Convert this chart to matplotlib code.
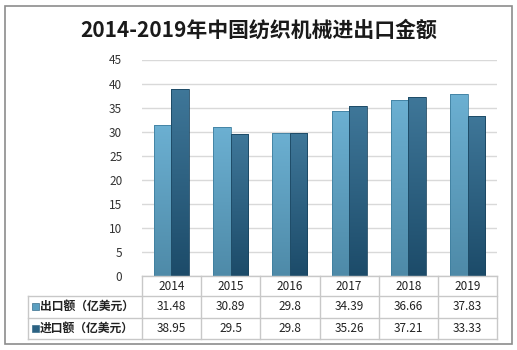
import numpy as np
import matplotlib.pyplot as plt
from matplotlib.colors import LinearSegmentedColormap
from matplotlib.patches import Rectangle

plt.rcParams['font.family'] = ['Noto Sans CJK SC', 'DejaVu Sans']

years = ['2014', '2015', '2016', '2017', '2018', '2019']
export = [31.48, 30.89, 29.8, 34.39, 36.66, 37.83]
imports = [38.95, 29.5, 29.8, 35.26, 37.21, 33.33]
export_label = '出口额（亿美元）'
import_label = '进口额（亿美元）'
title = '2014-2019年中国纺织机械进出口金额'

W, H = 517, 350
fig = plt.figure(figsize=(W / 100, H / 100), dpi=100)

def fx(px):
    return px / W

def fy(py):
    return 1 - py / H

# outer frame
fig.patches.append(Rectangle((fx(5), fy(344)), fx(507), 338 / H, transform=fig.transFigure,
                             fill=False, edgecolor='#8c8c8c', linewidth=1.2))

fig.text(0.5, fy(30), title, ha='center', va='center', fontsize=15, fontweight='bold', color='#1a1a1a')

left, right = 141.7, 497.3
y0, y45 = 276, 59.5
ax = fig.add_axes([fx(left), fy(y0), fx(right - left), (y0 - y45) / H])
ax.set_xlim(-0.5, len(years) - 0.5)
ax.set_ylim(0, 45)
ax.set_yticks(np.arange(0, 46, 5))
ax.tick_params(axis='y', length=0, pad=14, labelsize=8.5, labelcolor='#333333')
ax.set_xticks([])
for s in ax.spines.values():
    s.set_visible(False)
ax.grid(axis='y', color='#d9d9d9', linewidth=1)
ax.set_axisbelow(True)

x = np.arange(len(years))
bw = 0.295
cm_exp = LinearSegmentedColormap.from_list('e', ['#4e8aa8', '#6cb0d2'])
cm_imp = LinearSegmentedColormap.from_list('i', ['#1c4b69', '#3f7799'])
grad = np.linspace(0, 1, 256).reshape(-1, 1)

def gradient_bars(bars, cmap, edge):
    for b in bars:
        bx, by = b.get_x(), b.get_y()
        bwid, bh = b.get_width(), b.get_height()
        im = ax.imshow(grad, cmap=cmap, origin='lower', aspect='auto',
                       extent=[bx, bx + bwid, by, by + bh], zorder=2)
        im.set_clip_path(b)
        b.set_facecolor('none')
        b.set_edgecolor(edge)
        b.set_linewidth(0.6)
        b.set_zorder(3)

b1 = ax.bar(x - bw / 2, export, bw)
b2 = ax.bar(x + bw / 2, imports, bw)
gradient_bars(b1, cm_exp, '#3f7f9f')
gradient_bars(b2, cm_imp, '#1a4560')
ax.set_xlim(-0.5, len(years) - 0.5)
ax.set_ylim(0, 45)

# data table below the axes
line_c = '#c8c8c8'
col_w = (right - left) / len(years)
rows_y = [276, 296, 317.5, 339]
label_left = 28
for i in range(len(years) + 1):
    xx = left + i * col_w
    fig.add_artist(plt.Line2D([fx(xx)] * 2, [fy(rows_y[0]), fy(rows_y[-1])],
                              color=line_c, linewidth=1))
fig.add_artist(plt.Line2D([fx(label_left)] * 2, [fy(rows_y[1]), fy(rows_y[-1])],
                          color=line_c, linewidth=1))
fig.add_artist(plt.Line2D([fx(left), fx(right)], [fy(rows_y[0])] * 2, color=line_c, linewidth=1))
for yy in rows_y[1:]:
    fig.add_artist(plt.Line2D([fx(label_left), fx(right)], [fy(yy)] * 2, color=line_c, linewidth=1))

for i, yr in enumerate(years):
    cx = fx(left + (i + 0.5) * col_w)
    fig.text(cx, fy((rows_y[0] + rows_y[1]) / 2), yr, ha='center', va='center', fontsize=8.5, color='#222222')
    fig.text(cx, fy((rows_y[1] + rows_y[2]) / 2), f'{export[i]:g}', ha='center', va='center', fontsize=8.5, color='#222222')
    fig.text(cx, fy((rows_y[2] + rows_y[3]) / 2), f'{imports[i]:g}', ha='center', va='center', fontsize=8.5, color='#222222')

for r, (lab, col) in enumerate([(export_label, '#5b9fc0'), (import_label, '#2c6283')]):
    cy = (rows_y[r + 1] + rows_y[r + 2]) / 2
    fig.patches.append(Rectangle((fx(32), fy(cy + 3.5)), fx(7), 7 / H, transform=fig.transFigure,
                                 facecolor=col, edgecolor='#3a6f8c', linewidth=0.5))
    fig.text(fx(40), fy(cy), lab, ha='left', va='center', fontsize=8.5, fontweight='bold', color='#222222')

fig.savefig('out.png', dpi=100)
